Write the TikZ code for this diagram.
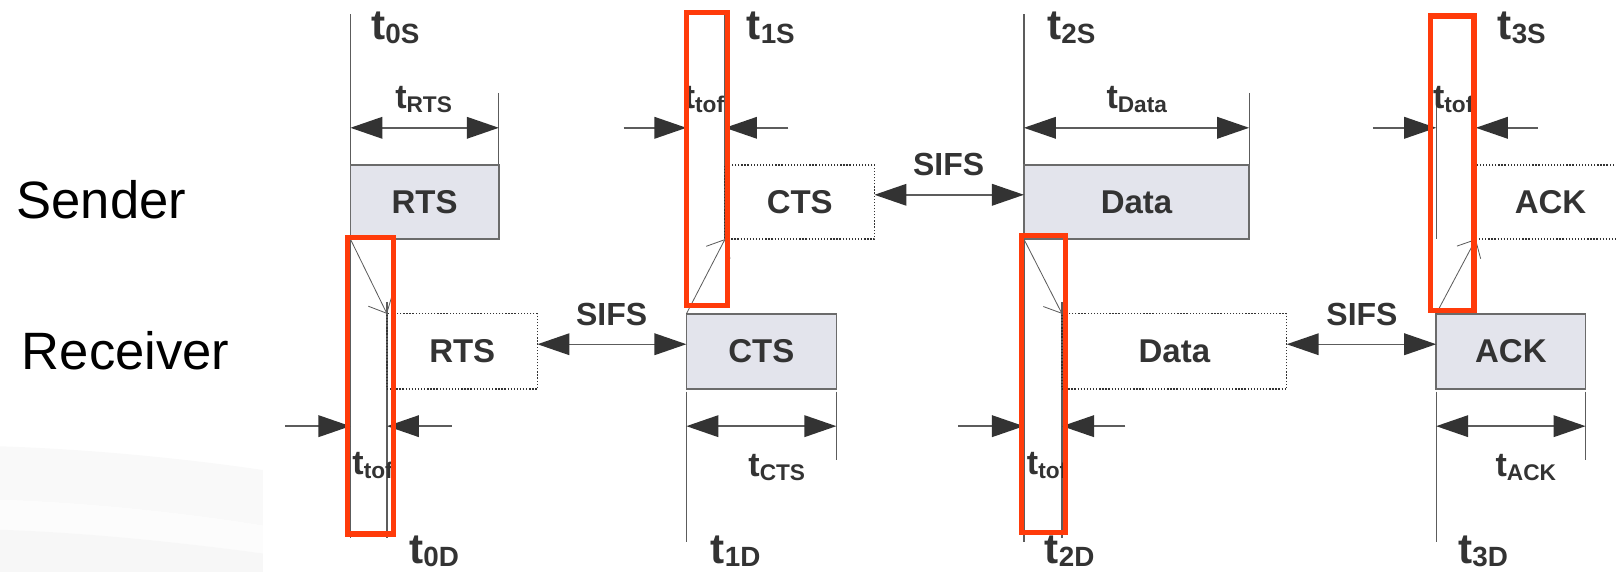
\documentclass[tikz,border=0pt]{standalone}
\usepackage{fontspec}
\setmainfont{Liberation Sans}
\usetikzlibrary{arrows.meta,calc}

\definecolor{ink}{HTML}{333333}
\definecolor{rule}{HTML}{5C5C5C}
\definecolor{frame}{HTML}{6B6B6B}
\definecolor{pkt}{HTML}{E3E4EC}
\definecolor{hilite}{HTML}{FF3B0A}

% time stamps (t_0S ...) and durations (t_RTS ...)
\newcommand\tstamp[1]{{\fontsize{41}{41}\selectfont t\raisebox{-3pt}{\fontsize{27}{27}\selectfont #1}}}
\newcommand\tdur[1]{{\fontsize{33}{33}\selectfont t\raisebox{-4pt}{\fontsize{22}{22}\selectfont #1}}}

\begin{document}
\begin{tikzpicture}[x=1pt,y=-1pt,
  timeline/.style={draw=rule,line width=1.2pt},
  pktsolid/.style={draw=frame,fill=pkt,line width=1.5pt,inner sep=0pt,outer sep=0pt,
    text=ink,font=\fontsize{32}{32}\selectfont\bfseries},
  pktecho/.style={draw=ink,line width=1.3pt,dash pattern=on 1.3pt off 1.7pt,inner sep=0pt,outer sep=0pt,
    text=ink,font=\fontsize{32}{32}\selectfont\bfseries},
  senderrow/.style={minimum height=72pt},
  receiverrow/.style={minimum height=73pt},
  dimboth/.style={draw=rule,line width=1.4pt,
    {Triangle[length=31pt,width=21pt,color=ink]}-{Triangle[length=31pt,width=21pt,color=ink]}},
  dimin/.style={draw=rule,line width=1.4pt,-{Triangle[length=31pt,width=21pt,color=ink]}},
  sifs/.style={draw=rule,line width=1.4pt,
    {Triangle[length=31pt,width=21pt,color=ink]}-{Triangle[length=31pt,width=21pt,color=ink]}},
  prop/.style={draw=rule,line width=0.8pt,-{Straight Barb[length=14pt,width=26pt,line width=0.8pt]}},
  stamp/.style={inner sep=0pt,anchor=base west,text=ink,font=\bfseries},
  durlabel/.style={inner sep=0pt,anchor=base,text=ink,font=\bfseries},
  sifslabel/.style={inner sep=0pt,anchor=base,text=ink,font=\fontsize{31}{31}\selectfont\bfseries},
  rowlabel/.style={inner sep=0pt,anchor=base west,text=black,font=\fontsize{51}{51}\selectfont},
  focus/.style={draw=hilite,line width=5pt}]

\useasboundingbox (0,0) rectangle (1568,555);
\clip (0,0) rectangle (1568,555);

% faint backdrop bands, lower left
\fill[black!2.5] (0,433) .. controls (90,436) and (180,445) .. (255,456) -- (255,510)
  .. controls (180,498) and (90,488) .. (0,485) -- cycle;
\fill[black!1] (0,485) .. controls (90,488) and (180,498) .. (255,510) -- (255,537)
  .. controls (180,527) and (90,517) .. (0,514) -- cycle;
\fill[black!3] (0,514) .. controls (90,517) and (180,527) .. (255,537) -- (255,555) -- (0,555) -- cycle;

% row labels
\node[rowlabel] (sender) at (16,212) {Sender};
\node[rowlabel] (receiver) at (21,359) {Receiver};

% time lines
\draw[timeline] (340,14) -- (340,522);
\draw[timeline] (375.5,293) -- (375.5,522);
\draw[timeline] (484,90) -- (484,160);
\draw[timeline] (703.5,14) -- (703.5,232);
\draw[timeline] (666,90) -- (666,232);
\draw[timeline] (666,380) -- (666,525.5);
\draw[timeline] (811.5,380) -- (811.5,446);
\draw[timeline] (993.5,14) -- (993.5,525.5);
\draw[timeline] (1212,90) -- (1212,160);
\draw[timeline] (1030.5,293) -- (1030.5,522);
\draw[timeline] (1432,14) -- (1432,232);
\draw[timeline] (1393.5,100) -- (1393.5,232);
\draw[timeline] (1393.5,380) -- (1393.5,525.5);
\draw[timeline] (1538.5,380) -- (1538.5,446);

% frames on the air
\node[pktsolid,senderrow,minimum width=144pt] (rtsS) at (412,196) {RTS};
\node[pktecho,receiverrow,minimum width=146pt] (rtsR) at (448.5,341) {RTS};
\node[pktsolid,receiverrow,minimum width=145.5pt] (ctsR) at (738.75,341) {CTS};
\node[pktecho,senderrow,minimum width=145pt] (ctsS) at (776,196) {CTS};
\node[pktsolid,senderrow,minimum width=218.5pt] (dataS) at (1102.75,196) {Data};
\node[pktecho,receiverrow,minimum width=218pt] (dataR) at (1139.5,341) {Data};
\node[pktsolid,receiverrow,minimum width=145pt] (ackR) at (1466,341) {ACK};
\node[pktecho,senderrow,minimum width=145pt] (ackS) at (1504.5,196) {ACK};

% propagation
\draw[prop] (rtsS.south west) -- (rtsR.north west);
\draw[prop] (ctsR.north west) -- (ctsS.south west);
\draw[prop] (dataS.south west) -- (dataR.north west);
\draw[prop] (ackR.north west) -- (ackS.south west);

% SIFS gaps
\draw[sifs] ([yshift=7pt]ctsS.east) -- ([yshift=7pt]dataS.west);
\draw[sifs] ([yshift=7pt]rtsR.east) -- ([yshift=7pt]ctsR.west);
\draw[sifs] ([yshift=7pt]dataR.east) -- ([yshift=7pt]ackR.west);
\node[sifslabel] (sifsA) at (920.5,170) {SIFS};
\node[sifslabel] (sifsB) at (593.5,315.5) {SIFS};
\node[sifslabel] (sifsC) at (1321.5,315.5) {SIFS};

% durations
\coordinate (rtsL) at (340,124);   \coordinate (rtsE) at (484,124);
\coordinate (dataL) at (993.5,124); \coordinate (dataE) at (1212,124);
\coordinate (ctsL) at (666,413.5);  \coordinate (ctsE) at (811.5,413.5);
\coordinate (ackL) at (1393.5,413.5); \coordinate (ackE) at (1538.5,413.5);
\draw[dimboth] (rtsL) -- (rtsE);
\draw[dimboth] (dataL) -- (dataE);
\draw[dimboth] (ctsL) -- (ctsE);
\draw[dimboth] (ackL) -- (ackE);

% time of flight
\coordinate (tofAa) at (277,413.5);  \coordinate (tofAb) at (340,413.5);
\coordinate (tofAc) at (438.5,413.5); \coordinate (tofAd) at (375.5,413.5);
\coordinate (tofBa) at (605,124);    \coordinate (tofBb) at (666,124);
\coordinate (tofBc) at (765,124);    \coordinate (tofBd) at (703.5,124);
\coordinate (tofCa) at (930,413.5);  \coordinate (tofCb) at (993.5,413.5);
\coordinate (tofCc) at (1092,413.5); \coordinate (tofCd) at (1030.5,413.5);
\coordinate (tofDa) at (1332,124);   \coordinate (tofDb) at (1393.5,124);
\coordinate (tofDc) at (1492,124);   \coordinate (tofDd) at (1432,124);
\draw[dimin] (tofAa) -- (tofAb);  \draw[dimin] (tofAc) -- (tofAd);
\draw[dimin] (tofBa) -- (tofBb);  \draw[dimin] (tofBc) -- (tofBd);
\draw[dimin] (tofCa) -- (tofCb);  \draw[dimin] (tofCc) -- (tofCd);
\draw[dimin] (tofDa) -- (tofDb);  \draw[dimin] (tofDc) -- (tofDd);

% labels
\node[stamp] (l0S) at (360,38.8) {\tstamp{0S}};
\node[stamp] (l1S) at (724.3,38.8) {\tstamp{1S}};
\node[stamp] (l2S) at (1016,38.8) {\tstamp{2S}};
\node[stamp] (l3S) at (1453,38.8) {\tstamp{3S}};
\node[stamp] (l0D) at (397,546.6) {\tstamp{0D}};
\node[stamp] (l1D) at (689.6,546.6) {\tstamp{1D}};
\node[stamp] (l2D) at (1013.6,546.6) {\tstamp{2D}};
\node[stamp] (l3D) at (1414.8,546.6) {\tstamp{3D}};

\node[durlabel] (lRTS) at (411,105) {\tdur{RTS}};
\node[durlabel] (lData) at (1103,105) {\tdur{Data}};
\node[durlabel] (lCTS) at (753.7,462.5) {\tdur{CTS}};
\node[durlabel] (lACK) at (1480.5,462.5) {\tdur{ACK}};
\node[durlabel] (lTofB) at (683,105) {\tdur{tof}};
\node[durlabel] (lTofD) at (1410,105) {\tdur{tof}};
\node[durlabel] (lTofA) at (361.5,460) {\tdur{tof}};
\node[durlabel] (lTofC) at (1016,460) {\tdur{tof}};

% highlighted flight intervals
\draw[focus] (336.9,230.5) rectangle (381.5,518.2);
\draw[focus] (666.2,12.2) rectangle (706.2,296.5);
\draw[focus] (990.9,228.9) rectangle (1033.9,516.5);
\draw[focus] (1388.2,15.5) rectangle (1430.2,301.5);
\end{tikzpicture}
\end{document}
